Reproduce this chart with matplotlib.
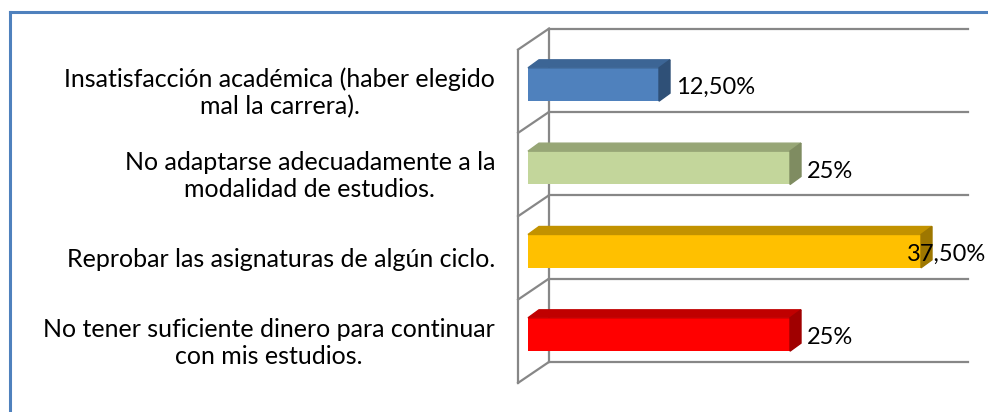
import matplotlib
matplotlib.use("Agg")
import matplotlib.pyplot as plt
from matplotlib.patches import Polygon
from matplotlib.lines import Line2D

categories = [
    "Insatisfacción académica (haber elegido\nmal la carrera).",
    "No adaptarse adecuadamente a la\nmodalidad de estudios.",
    "Reprobar las asignaturas de algún ciclo.",
    "No tener suficiente dinero para continuar\ncon mis estudios.",
]
values = [12.5, 25, 37.5, 25]
value_labels = ["12,50%", "25%", "37,50%", "25%"]
front_colors = ["#4F81BD", "#C3D69B", "#FFC000", "#FF0000"]
top_colors = ["#3C6595", "#97A676", "#C29200", "#C00000"]
side_colors = ["#2F5077", "#7F8C61", "#9E7700", "#A00000"]
x_max = 40

W, H = 988, 412
fig = plt.figure(figsize=(W / 100, H / 100), dpi=100)
fig.set_facecolor("white")
ax = fig.add_axes([0, 0, 1, 1])
ax.axis("off")

# pixel layout of the plot (x=0 at px 528, 10.48 px per percent, 83.33 px per category)
px_x, x0 = 10.48, 528
px_y, y0 = 83.33, 84.5
ax.set_xlim(-x0 / px_x, (W - x0) / px_x)
ax.set_ylim((H - y0) / px_y, -y0 / px_y)

# 3d depth of the walls and of the bars, in data units
wdx, wdy = 31 / px_x, -21 / px_y
fx, fy = -0.32 * wdx, -0.32 * wdy
bx, by = 0.68 * wdx, 0.68 * wdy
bdx, bdy = 11 / px_x, -8 / px_y

grid_c = "#878787"
n = len(values)
bounds = [k - 0.5 for k in range(n + 1)]
for b in bounds:
    ax.plot([bx, bx + x_max], [b + by, b + by], color=grid_c, lw=1.6, zorder=1)
    ax.plot([fx, bx], [b + fy, b + by], color=grid_c, lw=1.6, zorder=1)
ax.plot([bx, bx], [bounds[0] + by, bounds[-1] + by], color=grid_c, lw=1.6, zorder=1)
ax.plot([fx, fx], [bounds[0] + fy, bounds[-1] + fy], color=grid_c, lw=1.6, zorder=1)

h = 0.4
for i, v in enumerate(values):
    ax.barh(i, v, height=h, left=0, color=front_colors[i], zorder=3)
    top = i - h / 2
    bot = i + h / 2
    ax.add_patch(Polygon([(0, top), (v, top), (v + bdx, top + bdy), (bdx, top + bdy)],
                         closed=True, color=top_colors[i], zorder=3))
    ax.add_patch(Polygon([(v, top), (v + bdx, top + bdy), (v + bdx, bot + bdy), (v, bot)],
                         closed=True, color=side_colors[i], zorder=3))
    ax.text(min(v + 1.6, x_max - 3.8), i + 0.04, value_labels[i], fontsize=17,
            family="Lato", va="center", ha="left", zorder=4)
    ax.text(fx - 23 / px_x, i + 0.1, categories[i], fontsize=18, family="Lato",
            va="center", ha="right", multialignment="center", linespacing=1.2)

# chart area border (cropped at right and bottom)
border = "#4F81BD"
fig.add_artist(Line2D([10 / W, 1], [1 - 12 / H, 1 - 12 / H], transform=fig.transFigure,
                      color=border, lw=2.2))
fig.add_artist(Line2D([10 / W, 10 / W], [0, 1 - 12 / H], transform=fig.transFigure,
                      color=border, lw=2.2))

fig.savefig("out.png", dpi=100)
